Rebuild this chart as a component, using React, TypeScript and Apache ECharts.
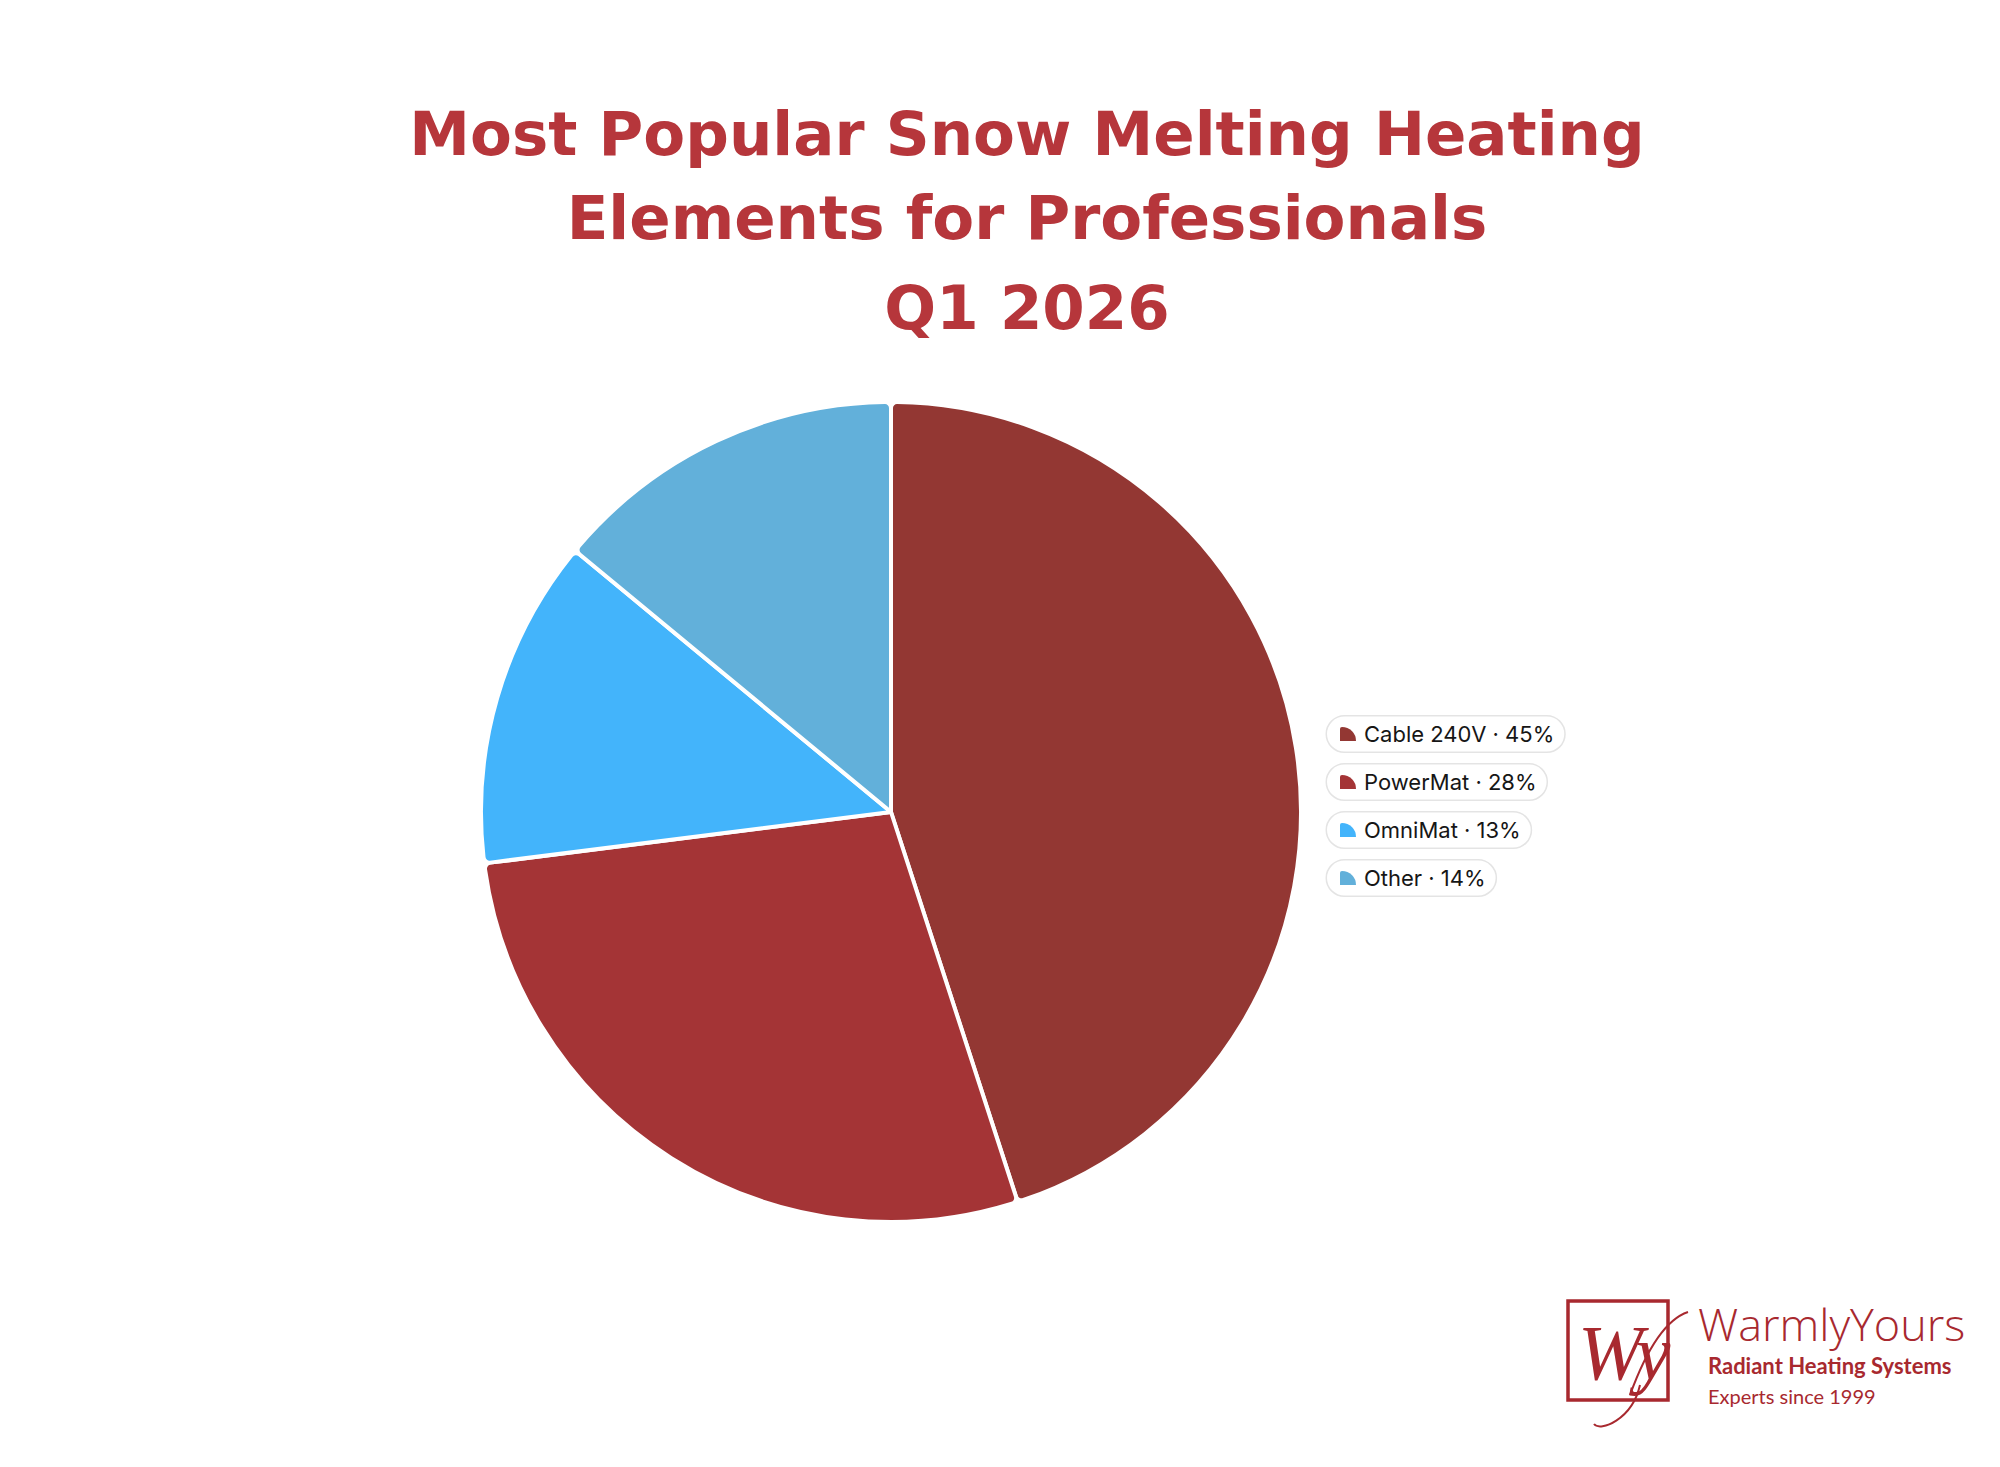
import React, { useEffect, useRef } from "react";
import * as echarts from "echarts";

const categories = ["Cable 240V", "PowerMat", "OmniMat", "Other"];
const shares = [45, 28, 13, 14];
const sliceColors = ["#933733", "#a43436", "#43b4fb", "#62b0da"];
const titleLines = ["Most Popular Snow Melting Heating", "Elements for Professionals", "Q1 2026"];
const brandName = "WarmlyYours";
const brandTag = "Radiant Heating Systems";
const brandSince = "Experts since 1999";

const TITLE_COLOR = "#b6363b";
const LOGO_COLOR = "#a8292f";

export default function App() {
  const ref = useRef<HTMLDivElement>(null);
  useEffect(() => {
    document.body.style.margin = "0";
    if (!ref.current) return;
    const chart = echarts.init(ref.current, null, { renderer: "svg" });

    const rich: Record<string, any> = {
      t: {
        fontFamily: "Inter",
        fontSize: 22,
        lineHeight: 21,
        color: "#161616",
        padding: [0, 0, 0, 8],
      },
    };
    sliceColors.forEach((c, i) => {
      rich["i" + i] = {
        width: 16,
        height: 14,
        backgroundColor: c,
        borderRadius: [2, 14, 0, 0],
      };
    });

    const titleSize = 61;
    const titleBaselines = [156, 240, 330];

    chart.setOption({
      animation: false,
      backgroundColor: "#ffffff",
      legend: {
        orient: "vertical",
        left: 1316,
        top: 710,
        itemGap: 10,
        icon: "none",
        itemWidth: 1,
        itemHeight: 14,
        selectedMode: false,
        data: categories,
        formatter: (name: string) => {
          const i = categories.indexOf(name);
          return `{i${i}|}{t|${name} · ${shares[i]}%}`;
        },
        textStyle: {
          backgroundColor: "#ffffff",
          borderColor: "#e4e4e4",
          borderWidth: 1.5,
          borderRadius: 18,
          padding: [7, 10, 7, 13],
          rich,
        },
      },
      series: [
        {
          type: "pie",
          center: [891, 812],
          radius: 410,
          startAngle: 90,
          clockwise: true,
          label: { show: false },
          labelLine: { show: false },
          emphasis: { disabled: true },
          itemStyle: { borderColor: "#ffffff", borderWidth: 4, borderRadius: 6 },
          data: categories.map((name, i) => ({
            name,
            value: shares[i],
            itemStyle: { color: sliceColors[i] },
          })),
        },
      ],
      graphic: [
        ...titleLines.map((line, i) => ({
          type: "text",
          x: 1027,
          y: titleBaselines[i] - titleSize * 0.37,
          style: {
            text: line,
            fill: TITLE_COLOR,
            font: `700 ${titleSize}px "DejaVu Sans"`,
            textAlign: "center",
            textVerticalAlign: "middle",
          },
        })),
        {
          type: "rect",
          shape: { x: 1568, y: 1301, width: 100, height: 99 },
          style: { fill: "none", stroke: LOGO_COLOR, lineWidth: 3.5 },
        },
        {
          type: "text",
          x: 1578,
          y: 1352,
          style: {
            text: "Wy",
            fill: LOGO_COLOR,
            font: `italic 400 78px "Liberation Serif"`,
            textAlign: "left",
            textVerticalAlign: "middle",
          },
        },
        {
          type: "bezierCurve",
          shape: { x1: 1630, y1: 1395, x2: 1688, y2: 1312, cpx1: 1650, cpy1: 1340, cpx2: 1670, cpy2: 1318 },
          style: { stroke: LOGO_COLOR, lineWidth: 2, fill: "none" },
        },
        {
          type: "bezierCurve",
          shape: { x1: 1640, y1: 1385, x2: 1594, y2: 1424, cpx1: 1632, cpy1: 1420, cpx2: 1600, cpy2: 1432 },
          style: { stroke: LOGO_COLOR, lineWidth: 2, fill: "none" },
        },
        {
          type: "text",
          x: 1698,
          y: 1337 - 45 * 0.3,
          style: {
            text: brandName,
            fill: LOGO_COLOR,
            font: `300 45px "Open Sans"`,
            textAlign: "left",
            textVerticalAlign: "middle",
          },
        },
        {
          type: "text",
          x: 1708,
          y: 1372 - 22 * 0.3,
          style: {
            text: brandTag,
            fill: LOGO_COLOR,
            font: `700 22px Lato`,
            textAlign: "left",
            textVerticalAlign: "middle",
          },
        },
        {
          type: "text",
          x: 1708,
          y: 1402 - 20 * 0.3,
          style: {
            text: brandSince,
            fill: LOGO_COLOR,
            font: `400 20px Lato`,
            textAlign: "left",
            textVerticalAlign: "middle",
          },
        },
      ],
    });
    return () => chart.dispose();
  }, []);
  return <div ref={ref} style={{ position: "absolute", left: 0, top: 0, width: 2000, height: 1467 }} />;
}
